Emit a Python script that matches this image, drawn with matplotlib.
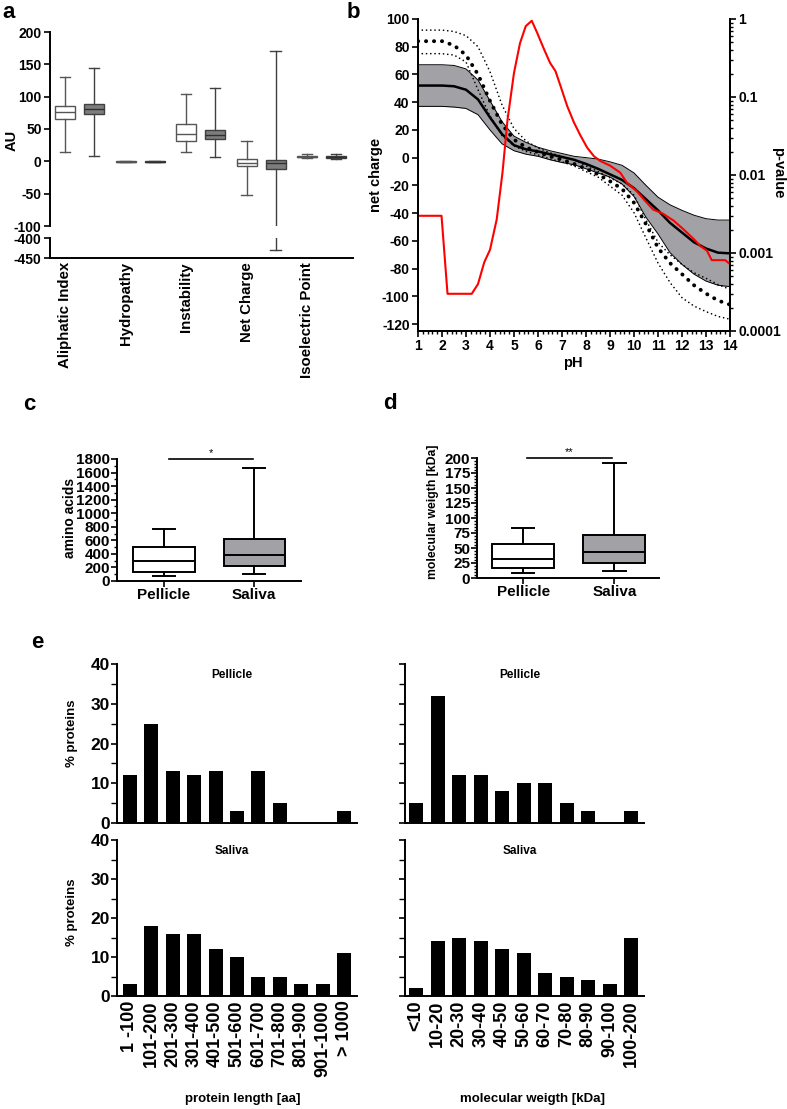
import numpy as np
import matplotlib.pyplot as plt
from matplotlib.ticker import MultipleLocator, NullFormatter, FixedLocator

plt.rcParams['font.family'] = ['Liberation Sans', 'DejaVu Sans']
plt.rcParams['font.weight'] = 'bold'
plt.rcParams['axes.labelweight'] = 'bold'
plt.rcParams['axes.unicode_minus'] = False
plt.rcParams['axes.linewidth'] = 1.4
plt.rcParams['xtick.major.width'] = 1.2
plt.rcParams['ytick.major.width'] = 1.2
plt.rcParams['xtick.minor.width'] = 1.0
plt.rcParams['ytick.minor.width'] = 1.0

W, H = 787, 1109

# ---------------- data ----------------
# panel a : box stats (whislo, q1, med, q3, whishi)
a_params = ['Aliphatic Index', 'Hydropathy', 'Instability', 'Net Charge', 'Isoelectric Point']
a_pel_lo = [14, -1.5, 15, -52, 5]
a_pel_q1 = [66, -0.8, 32, -7, 6]
a_pel_med = [76, -0.4, 43, -2, 7]
a_pel_q3 = [86, 0.0, 57, 3, 8]
a_pel_hi = [131, 0.5, 104, 31, 12]
a_sal_lo = [8, -1.5, 6, -430, 3]
a_sal_q1 = [73, -0.8, 35, -12, 5]
a_sal_med = [81, -0.4, 41, -3, 7]
a_sal_q3 = [88, 0.0, 49, 2, 8]
a_sal_hi = [145, 0.5, 114, 171, 12]

# panel b : net charge vs pH
ph = [1, 1.5, 2, 2.5, 3, 3.5, 4, 4.5, 5, 5.5, 6, 6.5, 7, 7.5, 8, 8.5, 9, 9.5,
      10, 10.5, 11, 11.5, 12, 12.5, 13, 13.5, 14]
sal_mean = [52, 52, 52, 51.5, 49, 42, 29, 17, 9, 6, 4.5, 2.5, 0.5, -1.5, -4.5, -8, -12, -16,
            -22, -30, -38, -47, -54, -61, -65.5, -68.5, -69]
sal_upper = [67, 67, 67, 66.5, 64, 56, 41, 26, 15.5, 11, 7.5, 5, 3, 1, 0, -1, -3, -5.5,
             -11, -20, -28.5, -34, -38, -41.5, -44, -45, -45]
sal_lower = [37, 37, 37, 36.5, 35.5, 31, 20, 10, 5, 2.5, 1, -1.5, -3.5, -5, -8, -11, -14, -19,
             -28, -43, -55, -68.5, -77, -84, -89, -92, -93]
pel_mean = [84, 84, 84, 81, 74, 60, 41, 24, 13, 7.5, 4, 1, -1.5, -4.5, -8, -12, -17, -22.5,
            -32.5, -48, -65, -76, -84, -92, -98, -103, -106]
pel_upper = [92, 92, 92, 91, 88, 80, 62, 38, 21, 12, 7, 3.5, 1, -1.5, -6, -10, -14.5, -19,
             -27, -45, -61, -70, -77, -83, -87, -91.5, -95]
pel_lower = [75, 75, 75, 74, 69, 49, 30, 16, 8.5, 4.5, 2, -1, -3, -6, -10, -14, -20.5, -27,
             -39.7, -58, -76, -90, -101, -107, -111, -114.5, -116.5]
ph_p = [1, 1.98, 2.23, 3.24, 3.5, 3.76, 4.0, 4.28, 4.52, 4.73, 5.0, 5.25, 5.49, 5.74, 5.97,
        6.25, 6.5, 6.73, 6.94, 7.22, 7.5, 7.77, 8.05, 8.33, 8.6, 9.0, 9.43, 9.71, 10.1, 10.4,
        10.8, 11.2, 11.65, 12.07, 12.5, 12.76, 13.04, 13.24, 13.52, 13.8, 14]
p_value = [0.0030, 0.0030, 0.0003, 0.0003, 0.0004, 0.00076, 0.0011, 0.0027, 0.0107, 0.051,
           0.204, 0.49, 0.81, 0.95, 0.66, 0.41, 0.275, 0.214, 0.138, 0.076, 0.047, 0.032,
           0.0224, 0.0174, 0.0151, 0.0132, 0.0107, 0.0079, 0.0063, 0.0049, 0.0036, 0.0032,
           0.0026, 0.0020, 0.0015, 0.00123, 0.00107, 0.00081, 0.00081, 0.00081, 0.00072]

# panel c / d : box stats
groups = ['Pellicle', 'Saliva']
aa_lo = [80, 110]
aa_q1 = [140, 220]
aa_med = [300, 380]
aa_q3 = [500, 620]
aa_hi = [760, 1670]
mw_lo = [8, 12]
mw_q1 = [16, 25]
mw_med = [32, 44]
mw_q3 = [57, 71]
mw_hi = [84, 191]

# panel e : distributions (% proteins)
len_bins = ['1 -100', '101-200', '201-300', '301-400', '401-500', '501-600',
            '601-700', '701-800', '801-900', '901-1000', '> 1000']
len_pel = [12, 25, 13, 12, 13, 3, 13, 5, 0, 0, 3]
len_sal = [3, 18, 16, 16, 12, 10, 5, 5, 3, 3, 11]
mw_bins = ['<10', '10-20', '20-30', '30-40', '40-50', '50-60', '60-70', '70-80',
           '80-90', '90-100', '100-200']
mw_pel = [5, 32, 12, 12, 8, 10, 10, 5, 3, 0, 3]
mw_sal = [2, 14, 15, 14, 12, 11, 6, 5, 4, 3, 15]


def rect(l, t, r, b):
    return [l / W, 1 - b / H, (r - l) / W, (b - t) / H]


def ftext(x, y, s, **kw):
    fig.text(x / W, 1 - y / H, s, **kw)


def stats(lo, q1, med, q3, hi):
    return [dict(whislo=a, q1=b, med=c, q3=d, whishi=e, fliers=[])
            for a, b, c, d, e in zip(lo, q1, med, q3, hi)]


fig = plt.figure(figsize=(W / 100, H / 100), dpi=100)

# ---------------- panel a ----------------
ax_at = fig.add_axes(rect(50, 32, 353, 226))
ax_ab = fig.add_axes(rect(50, 238, 353, 258))
x_pel = np.arange(len(a_params))
x_sal = x_pel + 0.48
for ax in (ax_at, ax_ab):
    ax.bxp(stats(a_pel_lo, a_pel_q1, a_pel_med, a_pel_q3, a_pel_hi), positions=x_pel,
           widths=0.33, capwidths=0.17, patch_artist=True, showfliers=False, manage_ticks=False,
           boxprops=dict(facecolor='white', edgecolor='#555555', linewidth=1.0),
           whiskerprops=dict(color='#555555', linewidth=1.0),
           capprops=dict(color='#555555', linewidth=1.0),
           medianprops=dict(color='#555555', linewidth=1.0))
    ax.bxp(stats(a_sal_lo, a_sal_q1, a_sal_med, a_sal_q3, a_sal_hi), positions=x_sal,
           widths=0.33, capwidths=0.17, patch_artist=True, showfliers=False, manage_ticks=False,
           boxprops=dict(facecolor='#7d7d7d', edgecolor='#404040', linewidth=1.0),
           whiskerprops=dict(color='#404040', linewidth=1.0),
           capprops=dict(color='#404040', linewidth=1.0),
           medianprops=dict(color='#303030', linewidth=1.0))
    ax.set_xlim(-0.25, 4.76)
    ax.spines['top'].set_visible(False)
    ax.spines['right'].set_visible(False)
    ax.tick_params(axis='y', labelsize=10, length=4, pad=2)
ax_at.set_ylim(-100, 200)
ax_at.set_yticks([-100, -50, 0, 50, 100, 150, 200])
ax_at.spines['bottom'].set_visible(False)
ax_at.set_xticks([])
ax_ab.set_ylim(-450, -400)
ax_ab.set_yticks([-450, -400])
ax_ab.set_xticks(x_pel)
ax_ab.set_xticklabels(a_params, rotation=90, fontsize=10.8, va='top')
ax_ab.tick_params(axis='x', length=0, pad=3)
ftext(12, 140, 'AU', fontsize=10.5, rotation=90, ha='center', va='center')

# ---------------- panel b ----------------
ax_b = fig.add_axes(rect(418, 19, 730, 331))
ax_b.fill_between(ph, sal_lower, sal_upper, color='#a2a2a6', lw=0)
ax_b.plot(ph, sal_upper, color='black', lw=0.7)
ax_b.plot(ph, sal_lower, color='black', lw=0.7)
ax_b.plot(ph, sal_mean, color='black', lw=1.8)
ax_b.plot(ph, pel_mean, color='black', lw=2.8, linestyle=(0, (0.05, 2.0)), dash_capstyle='round')
ax_b.plot(ph, pel_upper, color='black', lw=1.2, linestyle=(0, (0.05, 2.5)), dash_capstyle='round')
ax_b.plot(ph, pel_lower, color='black', lw=1.2, linestyle=(0, (0.05, 2.5)), dash_capstyle='round')
ax_b.set_xlim(1, 14)
ax_b.set_ylim(-125, 100)
ax_b.set_yticks(np.arange(-120, 101, 20))
ax_b.set_xticks(np.arange(1, 15))
ax_b.xaxis.set_minor_locator(MultipleLocator(0.2))
ax_b.tick_params(labelsize=10, length=4, pad=2)
ax_b.tick_params(which='minor', length=2)
ax_b.spines['top'].set_visible(False)
ax_p = ax_b.twinx()
ax_p.plot(ph_p, p_value, color='#ff0000', lw=1.5)
ax_p.set_yscale('log')
ax_p.set_ylim(1e-4, 1)
ax_p.yaxis.set_major_locator(FixedLocator([1e-4, 1e-3, 1e-2, 1e-1, 1]))
ax_p.set_yticklabels(['0.0001', '0.001', '0.01', '0.1', '1'])
ax_p.yaxis.set_minor_formatter(NullFormatter())
ax_p.tick_params(labelsize=10, length=4, pad=2)
ax_p.tick_params(which='minor', length=2)
ax_p.spines['top'].set_visible(False)
ftext(376, 175, 'net charge', fontsize=10.5, rotation=90, ha='center', va='center')
ftext(778, 173, 'p-value', fontsize=10.5, rotation=270, ha='center', va='center')
ftext(573, 363, 'pH', fontsize=10.5, ha='center', va='center')

# ---------------- panel c / d ----------------
def box_panel(r, lo, q1, med, q3, hi, ylim, major, minor, xl, sig, star):
    ax = fig.add_axes(r)
    ax.bxp(stats(lo, q1, med, q3, hi), positions=[1, 2], widths=0.68, capwidths=0.25,
           patch_artist=True, showfliers=False, manage_ticks=False,
           boxprops=dict(linewidth=1.4, edgecolor='black'),
           whiskerprops=dict(linewidth=1.4), capprops=dict(linewidth=1.4),
           medianprops=dict(color='black', linewidth=1.4))
    for patch, fc in zip(ax.patches, ['white', '#a2a2a6']):
        patch.set_facecolor(fc)
    ax.set_xlim(*xl)
    ax.set_ylim(*ylim)
    ax.set_xticks([1, 2])
    ax.set_xticklabels(groups, fontsize=11)
    ax.yaxis.set_major_locator(MultipleLocator(major))
    ax.yaxis.set_minor_locator(MultipleLocator(minor))
    ax.tick_params(labelsize=11, length=4, pad=1)
    ax.tick_params(which='minor', length=2)
    ax.spines['top'].set_visible(False)
    ax.spines['right'].set_visible(False)
    ax.plot(sig, [ylim[1], ylim[1]], color='black', lw=1.2, clip_on=False)
    ax.text(np.mean(sig), ylim[1] * 1.01, star, ha='center', va='bottom', fontsize=8,
            fontweight='normal')
    return ax

box_panel(rect(117, 459, 301, 581), aa_lo, aa_q1, aa_med, aa_q3, aa_hi, (0, 1800), 200, 100,
          (0.478, 2.52), [1.055, 1.99], '*')
ftext(70, 518, 'amino acids', fontsize=10, rotation=90, ha='center', va='center')
box_panel(rect(477, 458, 659, 578), mw_lo, mw_q1, mw_med, mw_q3, mw_hi, (0, 200), 25, 5,
          (0.495, 2.49), [1.04, 1.98], '**')
ftext(433, 512, 'molecular weigth [kDa]', fontsize=8.8, rotation=90, ha='center', va='center')

# ---------------- panel e ----------------
def bar_panel(r, vals, labels, show_y, show_x, title, xl):
    ax = fig.add_axes(r)
    ax.bar(np.arange(len(vals)), vals, width=0.65, color='black')
    ax.set_xlim(*xl)
    ax.set_ylim(0, 40)
    ax.yaxis.set_major_locator(MultipleLocator(10))
    ax.yaxis.set_minor_locator(MultipleLocator(5))
    ax.tick_params(axis='y', labelsize=12.5, length=4, pad=1)
    ax.tick_params(axis='y', which='minor', length=4)
    ax.set_xticks(np.arange(len(vals)))
    ax.tick_params(axis='x', length=0, pad=3)
    if show_x:
        ax.set_xticklabels(labels, rotation=90, fontsize=13, va='top')
    else:
        ax.set_xticklabels([])
    if not show_y:
        ax.set_yticklabels([])
    ax.spines['top'].set_visible(False)
    ax.spines['right'].set_visible(False)
    ax.text(0.48, 0.93, title, transform=ax.transAxes, ha='center', va='center', fontsize=8.5)
    return ax

bar_panel(rect(117, 664, 357, 823), len_pel, len_bins, True, False, 'Pellicle', (-0.6, 10.6))
bar_panel(rect(117, 840, 357, 996), len_sal, len_bins, True, True, 'Saliva', (-0.6, 10.6))
bar_panel(rect(405, 664, 644, 823), mw_pel, mw_bins, False, False, 'Pellicle', (-0.52, 10.6))
bar_panel(rect(405, 840, 644, 996), mw_sal, mw_bins, False, True, 'Saliva', (-0.52, 10.6))
ftext(72, 733, '% proteins', fontsize=9.5, rotation=90, ha='center', va='center')
ftext(72, 912, '% proteins', fontsize=9.5, rotation=90, ha='center', va='center')
ftext(243, 1099, 'protein length [aa]', fontsize=9.5, ha='center', va='center')
ftext(532, 1099, 'molecular weigth [kDa]', fontsize=9.5, ha='center', va='center')

# panel letters
for x, y, s in [(9, 13, 'a'), (353, 13, 'b'), (29, 405, 'c'), (390, 403, 'd'), (37, 642, 'e')]:
    ftext(x, y, s, fontsize=16, ha='center', va='center')

fig.savefig('out.png', dpi=100)
